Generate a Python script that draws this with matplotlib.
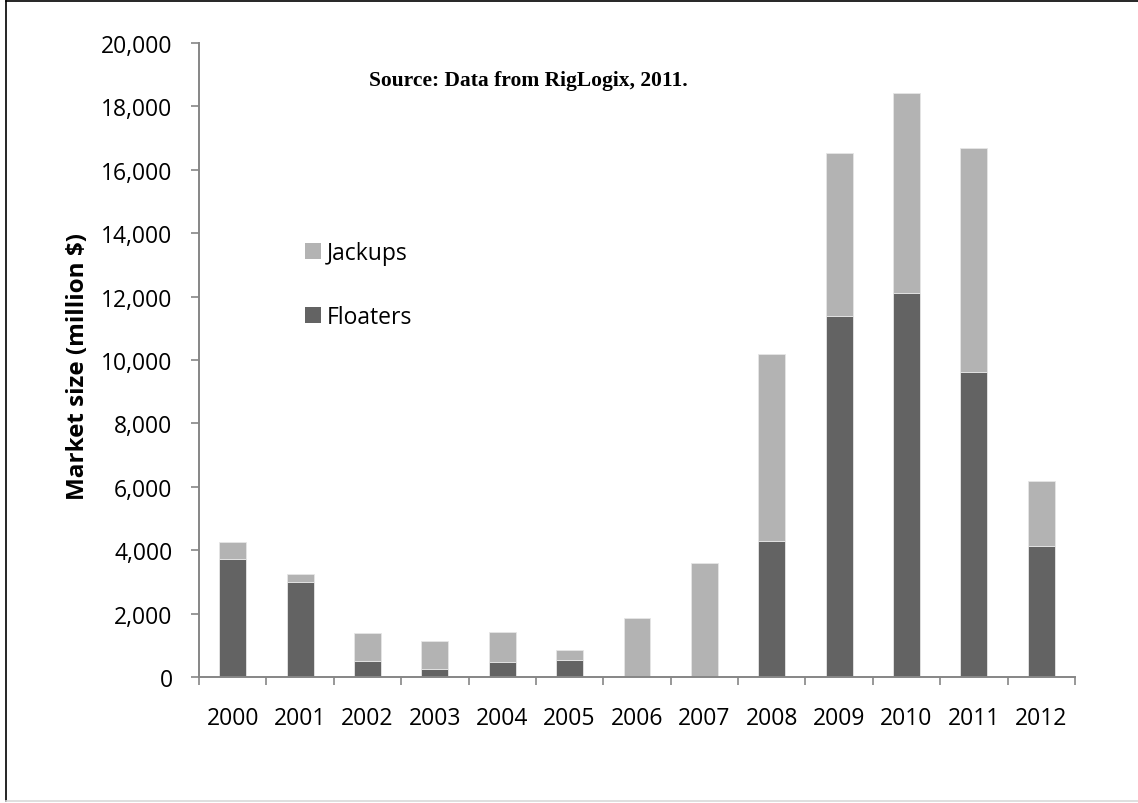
import matplotlib
matplotlib.use("Agg")
import matplotlib.pyplot as plt
from matplotlib.patches import Patch
from matplotlib.lines import Line2D

# market size by rig type, million $
years = ["2000", "2001", "2002", "2003", "2004", "2005", "2006",
         "2007", "2008", "2009", "2010", "2011", "2012"]
floaters = [3720, 3010, 500, 240, 470, 540, 0, 0, 4290, 11400, 12110, 9610, 4130]
jackups = [540, 230, 900, 900, 940, 300, 1860, 3600, 5900, 5120, 6300, 7090, 2050]

c_float = "#636363"
c_jack = "#b3b3b3"
c_axis = "#868686"

plt.rcParams['font.family'] = ['Open Sans', 'DejaVu Sans']

W, H = 1138, 804
fig = plt.figure(figsize=(W / 100, H / 100), dpi=100)
ax = fig.add_axes([199 / W, 1 - 678 / H, (1075 - 199) / W, (678 - 44) / H])

x = list(range(len(years)))
ax.bar(x, floaters, width=0.4, color=c_float, edgecolor="#e6e6e6", linewidth=0.6,
       label="Floaters", zorder=2)
ax.bar(x, jackups, width=0.4, bottom=floaters, color=c_jack, edgecolor="#e6e6e6",
       linewidth=0.6, label="Jackups", zorder=2)

ax.set_xlim(-0.5, len(years) - 0.5)
ax.set_ylim(0, 20000)

# category ticks sit between bars, labels at bar centres
ax.set_xticks([i - 0.5 for i in range(len(years) + 1)])
ax.set_xticklabels([])
ax.set_xticks(x, minor=True)
ax.set_xticklabels(years, minor=True, fontsize=16.5)
ax.tick_params(axis="x", which="major", direction="out", length=6, width=1.2, color=c_axis)
ax.tick_params(axis="x", which="minor", length=0, pad=21)

ax.set_yticks(range(0, 20001, 2000))
ax.set_yticklabels([f"{v:,}" for v in range(0, 20001, 2000)], fontsize=16.5)
ax.tick_params(axis="y", direction="out", length=6, width=1.2, color=c_axis, pad=13)

for side in ("top", "right"):
    ax.spines[side].set_visible(False)
for side in ("left", "bottom"):
    ax.spines[side].set_color(c_axis)
    ax.spines[side].set_linewidth(1.4)

fig.text(78 / W, 1 - 367 / H, "Market size (million $)", rotation=90,
         ha="center", va="center", fontsize=17.5, fontweight="bold")

fig.text(528 / W, 1 - 81 / H, "Source: Data from RigLogix, 2011.",
         ha="center", va="center", fontsize=15.5, fontweight="bold",
         family="Liberation Serif")

handles = [Patch(facecolor=c_jack, label="Jackups"),
           Patch(facecolor=c_float, label="Floaters")]
fig.legend(handles=handles, loc="upper left", bbox_to_anchor=(284 / W, 1 - 221 / H),
           frameon=False, fontsize=16.5, handlelength=0.7, handleheight=0.7,
           handletextpad=0.25, labelspacing=1.75)

# outer chart frame
fig.add_artist(Line2D([6 / W, 6 / W], [0.002, 1 - 2 / H], color="black", lw=1.2))
fig.add_artist(Line2D([6 / W, 1], [1 - 2 / H, 1 - 2 / H], color="black", lw=1.2))
fig.add_artist(Line2D([6 / W, 1], [0.002, 0.002], color="#d9d9d9", lw=1.2))

fig.savefig("out.png", dpi=100)
